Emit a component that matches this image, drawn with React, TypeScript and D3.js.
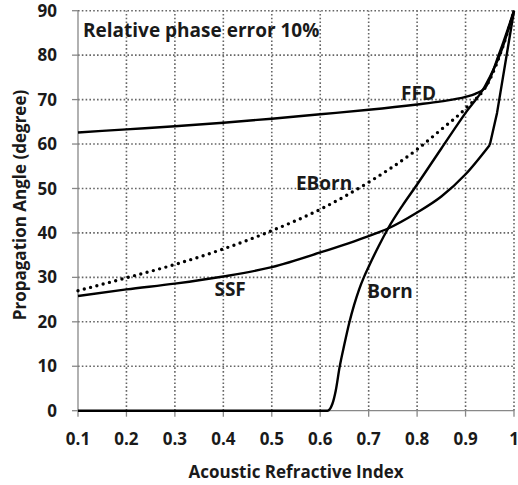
import React from "react";
import * as d3 from "d3";

const xTicks = [0.1, 0.2, 0.3, 0.4, 0.5, 0.6, 0.7, 0.8, 0.9, 1];
const xTickLabels = ["0.1", "0.2", "0.3", "0.4", "0.5", "0.6", "0.7", "0.8", "0.9", "1"];
const yTicks = [0, 10, 20, 30, 40, 50, 60, 70, 80, 90];

const ffdX = [0.1, 0.2, 0.3, 0.4, 0.5, 0.6, 0.7, 0.8, 0.85, 0.9, 0.92, 0.94, 0.97, 1];
const ffdY = [62.6, 63.3, 64.0, 64.8, 65.7, 66.7, 67.7, 68.9, 69.6, 70.6, 71.3, 72.6, 80.5, 90];

const ebornX = [0.1, 0.2, 0.3, 0.4, 0.5, 0.6, 0.7, 0.8, 0.85, 0.9, 0.95, 0.975, 1];
const ebornY = [27.0, 29.9, 32.9, 36.4, 40.5, 45.3, 51.4, 58.8, 63.3, 68.0, 74.5, 81.3, 90];

// SSF: smooth part up to the kink, then a straight tail
const ssfX = [0.1, 0.2, 0.3, 0.4, 0.5, 0.6, 0.7, 0.74, 0.8, 0.85, 0.9, 0.95];
const ssfY = [25.8, 27.3, 28.6, 30.2, 32.3, 35.6, 39.3, 41.0, 44.6, 48.2, 53.2, 59.8];
const ssfTailX = [0.95, 0.965, 1];
const ssfTailY = [59.8, 67.0, 90];

const bornX = [0.1, 0.6, 0.615, 0.625, 0.632, 0.64, 0.65, 0.66, 0.67, 0.68, 0.69, 0.7, 0.72, 0.74, 0.77, 0.8, 0.85, 0.9, 0.94, 0.975, 1];
const bornY = [0, 0, 0, 1.5, 4.5, 9.8, 15, 19.8, 23.8, 27.2, 30.0, 32.4, 36.9, 41, 46.2, 50.9, 59, 67, 73, 81.3, 90];

const labelNames = ["FFD", "EBorn", "SSF", "Born"];
const labelX = [0.803, 0.608, 0.414, 0.744];
const labelY = [69.9, 49.7, 25.8, 25.4];

const W = 518, H = 485;
const L = 78, R = 514, T = 10.7, B = 410.7;
const FONT = "'Open Sans', sans-serif";

export default function App() {
  const x = d3.scaleLinear().domain([0.1, 1]).range([L, R]);
  const y = d3.scaleLinear().domain([0, 90]).range([B, T]);
  const smooth = d3
    .line<[number, number]>()
    .x((d) => x(d[0]))
    .y((d) => y(d[1]))
    .curve(d3.curveMonotoneX);
  const straight = d3
    .line<[number, number]>()
    .x((d) => x(d[0]))
    .y((d) => y(d[1]));
  const pts = (xs: number[], ys: number[]) => xs.map((v, i) => [v, ys[i]] as [number, number]);
  const mk = (xs: number[], ys: number[]) => smooth(pts(xs, ys)) || "";

  return (
    <svg width={W} height={H} style={{ position: "absolute", left: 0, top: 0, background: "#fff" }} fontFamily={FONT}>
      <rect width={W} height={H} fill="#fff" />
      {/* grid */}
      {xTicks.slice(1).map((t) => (
        <line key={"gx" + t} x1={x(t)} x2={x(t)} y1={y(0)} y2={y(90)} stroke="#666" strokeWidth={1.6} strokeDasharray="1.6,2.2" />
      ))}
      {yTicks.slice(1).map((t) => (
        <line key={"gy" + t} x1={x(0.1)} x2={x(1)} y1={y(t)} y2={y(t)} stroke="#666" strokeWidth={1.6} strokeDasharray="1.6,2.2" />
      ))}
      {/* axes */}
      <line x1={L} x2={L} y1={T} y2={B} stroke="#888" strokeWidth={1.3} />
      <line x1={L} x2={R} y1={B} y2={B} stroke="#888" strokeWidth={1.3} />
      {yTicks.map((t) => (
        <g key={"yt" + t}>
          <line x1={L - 6} x2={L} y1={y(t)} y2={y(t)} stroke="#888" strokeWidth={1.3} />
          <text x={57} y={y(t)} dy="0.36em" textAnchor="end" fontSize={17} fontWeight={700} fill="#1a1a1a">
            {t}
          </text>
        </g>
      ))}
      {xTicks.map((t, i) => (
        <g key={"xt" + t}>
          <line x1={x(t)} x2={x(t)} y1={B} y2={B + 6} stroke="#888" strokeWidth={1.3} />
          <text x={x(t)} y={445} textAnchor="middle" fontSize={17} fontWeight={700} fill="#1a1a1a">
            {xTickLabels[i]}
          </text>
        </g>
      ))}
      <text x={(L + R) / 2} y={478} textAnchor="middle" fontSize={17} fontWeight={700} fill="#1a1a1a">
        Acoustic Refractive Index
      </text>
      <text transform={`translate(25.5,205) rotate(-90)`} textAnchor="middle" fontSize={17} fontWeight={700} fill="#1a1a1a">
        Propagation Angle (degree)
      </text>
      {/* series */}
      <path d={mk(ffdX, ffdY)} fill="none" stroke="#000" strokeWidth={2.4} />
      <path d={mk(ssfX, ssfY)} fill="none" stroke="#000" strokeWidth={2.4} />
      <path d={straight(pts(ssfTailX, ssfTailY)) || ""} fill="none" stroke="#000" strokeWidth={2.4} strokeLinejoin="round" />
      <path d={mk(bornX, bornY)} fill="none" stroke="#000" strokeWidth={2.4} />
      <path d={mk(ebornX, ebornY)} fill="none" stroke="#000" strokeWidth={3.4} strokeLinecap="round" strokeDasharray="0,6.5" />
      {/* labels */}
      {labelNames.map((n, i) => (
        <text key={n} x={x(labelX[i])} y={y(labelY[i])} textAnchor="middle" fontSize={19} fontWeight={700} fill="#1a1a1a">
          {n}
        </text>
      ))}
      <text x={83} y={36.5} fontSize={19} fontWeight={700} fill="#1a1a1a">
        Relative phase error 10%
      </text>
    </svg>
  );
}
